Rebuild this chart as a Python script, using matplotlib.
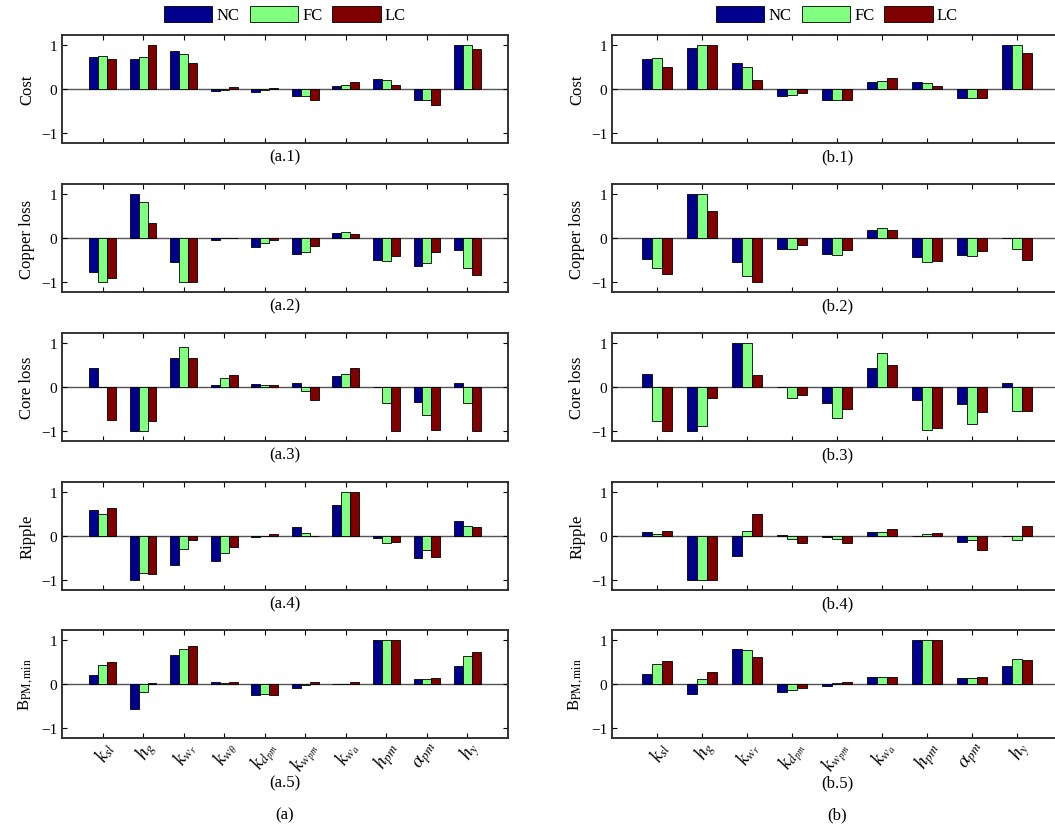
import numpy as np
import matplotlib
matplotlib.use("Agg")
import matplotlib.pyplot as plt
import matplotlib.transforms as mtransforms

plt.rcParams["font.family"] = ["Liberation Serif", "DejaVu Serif"]
plt.rcParams["mathtext.fontset"] = "stix"

series = ["NC", "FC", "LC"]
colors = ["#00008F", "#80FF80", "#800000"]

labels_a = [r"$k_{sl}$", r"$h_g$", r"$k_{w_r}$", r"$k_{w_\theta}$", r"$k_{d_{pm}}$",
            r"$k_{w_{pm}}$", r"$k_{w_a}$", r"$h_{pm}$", r"$\alpha_{pm}$", r"$h_y$"]
labels_b = [r"$k_{sl}$", r"$h_g$", r"$k_{w_r}$", r"$k_{d_{pm}}$",
            r"$k_{w_{pm}}$", r"$k_{w_a}$", r"$h_{pm}$", r"$\alpha_{pm}$", r"$h_y$"]

ylabels = ["Cost", "Copper loss", "Core loss", "Ripple", r"B$_{\mathrm{PM,min}}$"]

# (a) column, 10 parameters
cost_a = [[0.74, 0.68, 0.86, -0.04, -0.06, -0.17, 0.06, 0.23, -0.25, 1.0],
          [0.75, 0.74, 0.79, -0.02, -0.03, -0.16, 0.08, 0.21, -0.25, 1.0],
          [0.68, 1.0, 0.60, 0.04, 0.03, -0.24, 0.17, 0.10, -0.36, 0.92]]
copper_a = [[-0.78, 1.0, -0.54, -0.04, -0.20, -0.37, 0.12, -0.50, -0.64, -0.27],
            [-1.0, 0.81, -1.0, -0.01, -0.12, -0.31, 0.14, -0.53, -0.56, -0.69],
            [-0.92, 0.34, -1.0, 0.01, -0.04, -0.18, 0.08, -0.40, -0.32, -0.85]]
core_a = [[0.44, -1.0, 0.66, 0.04, 0.07, 0.10, 0.25, 0.01, -0.35, 0.08],
          [0.0, -1.0, 0.90, 0.20, 0.04, -0.09, 0.30, -0.37, -0.64, -0.37],
          [-0.75, -0.77, 0.65, 0.27, 0.04, -0.30, 0.44, -1.0, -0.98, -1.0]]
ripple_a = [[0.59, -1.0, -0.65, -0.56, -0.03, 0.21, 0.71, -0.05, -0.50, 0.34],
            [0.51, -0.84, -0.30, -0.39, -0.01, 0.07, 1.0, -0.15, -0.33, 0.23],
            [0.64, -0.86, -0.10, -0.26, 0.04, 0.0, 1.0, -0.14, -0.48, 0.20]]
bpm_a = [[0.20, -0.56, 0.66, 0.04, -0.26, -0.09, 0.01, 1.0, 0.11, 0.41],
         [0.44, -0.18, 0.80, 0.03, -0.23, -0.02, 0.01, 1.0, 0.12, 0.64],
         [0.50, 0.02, 0.86, 0.04, -0.24, 0.04, 0.05, 1.0, 0.13, 0.72]]

# (b) column, 9 parameters
cost_b = [[0.68, 0.94, 0.60, -0.17, -0.25, 0.17, 0.15, -0.21, 1.0],
          [0.70, 1.0, 0.51, -0.13, -0.25, 0.19, 0.14, -0.21, 1.0],
          [0.51, 1.0, 0.20, -0.08, -0.26, 0.24, 0.06, -0.21, 0.83]]
copper_b = [[-0.47, 1.0, -0.55, -0.26, -0.36, 0.19, -0.44, -0.39, 0.0],
            [-0.68, 1.0, -0.87, -0.24, -0.39, 0.23, -0.55, -0.40, -0.24],
            [-0.83, 0.62, -1.0, -0.15, -0.27, 0.19, -0.53, -0.30, -0.51]]
core_b = [[0.30, -1.0, 1.0, 0.01, -0.37, 0.44, -0.29, -0.38, 0.10],
          [-0.77, -0.88, 1.0, -0.24, -0.71, 0.77, -0.98, -0.84, -0.54],
          [-1.0, -0.24, 0.28, -0.19, -0.50, 0.51, -0.94, -0.58, -0.54]]
ripple_b = [[0.08, -1.0, -0.45, 0.02, -0.03, 0.10, 0.0, -0.14, 0.0],
            [0.05, -1.0, 0.12, -0.07, -0.06, 0.10, 0.04, -0.10, -0.09],
            [0.12, -1.0, 0.49, -0.17, -0.15, 0.15, 0.07, -0.33, 0.23]]
bpm_b = [[0.23, -0.23, 0.79, -0.19, -0.05, 0.15, 1.0, 0.14, 0.42],
         [0.46, 0.12, 0.77, -0.14, 0.02, 0.15, 1.0, 0.14, 0.56],
         [0.53, 0.27, 0.62, -0.10, 0.04, 0.15, 1.0, 0.15, 0.55]]

col_a = [cost_a, copper_a, core_a, ripple_a, bpm_a]
col_b = [cost_b, copper_b, core_b, ripple_b, bpm_b]

W, H = 1055, 828
fig = plt.figure(figsize=(W / 100, H / 100), dpi=100)

tops = [36, 185, 334, 483, 631]
ax_h = 108
lefts = [62, 612]
widths = [446, 450]
bw = 0.22


def draw_panel(ax, data, labels, ylab, last):
    n = len(labels)
    x = np.arange(1, n + 1)
    for i, (vals, c) in enumerate(zip(data, colors)):
        ax.bar(x + (i - 1) * bw, vals, width=bw, color=c, edgecolor="black",
               linewidth=0.6, label=series[i], zorder=2)
    ax.axhline(0, color="#555555", lw=1.0, zorder=1)
    ax.set_xlim(0, n + 1)
    ax.set_ylim(-1.23, 1.23)
    ax.set_yticks([-1, 0, 1])
    ax.set_yticklabels(["\u22121", "0", "1"], fontsize=11)
    ax.set_xticks(x)
    ax.tick_params(direction="in", top=True, right=True, length=3.5, width=0.8)
    ax.tick_params(axis="x", pad=3)
    for s in ax.spines.values():
        s.set_linewidth(1.4)
        s.set_color("#333333")
    ax.set_ylabel(ylab, fontsize=12, labelpad=4)
    if last:
        ax.set_xticklabels(labels, fontsize=14)
        shift = mtransforms.ScaledTranslation(7 / 100, 0, fig.dpi_scale_trans)
        for t in ax.get_xticklabels():
            t.set_rotation(60)
            t.set_rotation_mode("anchor")
            t.set_ha("right")
            t.set_va("center")
            t.set_transform(t.get_transform() + shift)
    else:
        ax.set_xticklabels([])


for col, (data_col, labels, tag, left, w) in enumerate(
        zip([col_a, col_b], [labels_a, labels_b], ["a", "b"], lefts, widths)):
    cx = (left + w / 2) / W
    for r in range(5):
        ax = fig.add_axes([left / W, 1 - (tops[r] + ax_h) / H, w / W, ax_h / H])
        draw_panel(ax, data_col[r], labels, ylabels[r], r == 4)
        cap_y = 783 if r == 4 else tops[r] + ax_h + 13
        fig.text(cx, 1 - cap_y / H, f"({tag}.{r + 1})", ha="center",
                 va="center", fontsize=12)
        if r == 0:
            ax.legend(loc="center", bbox_to_anchor=(0.5, 1.19), ncol=3,
                      frameon=False, fontsize=12, handlelength=2.9,
                      handleheight=1.1, handletextpad=0.25, columnspacing=0.6,
                      borderaxespad=0)
    fig.text(cx, 1 - 815 / H, f"({tag})", ha="center", va="center", fontsize=12)

fig.savefig("out.png", dpi=100)
